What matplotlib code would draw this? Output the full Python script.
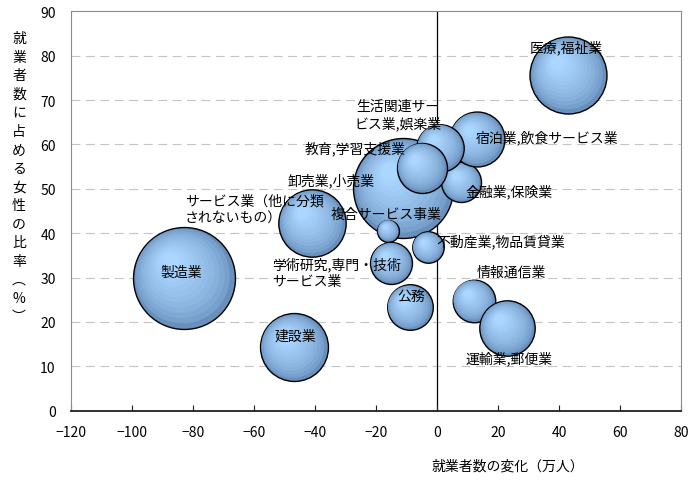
import numpy as np
import matplotlib
matplotlib.use("Agg")
import matplotlib.pyplot as plt
from matplotlib.transforms import offset_copy

plt.rcParams['font.family'] = ['Noto Sans CJK JP', 'DejaVu Sans']

# data (draw order = list order)
industries = ['製造業', '建設業', 'サービス業（他に分類されないもの）', '卸売業,小売業',
              '複合サービス事業', '学術研究,専門・技術サービス業', '公務', '不動産業,物品賃貸業',
              '金融業,保険業', '宿泊業,飲食サービス業', '生活関連サービス業,娯楽業',
              '教育,学習支援業', '医療,福祉業', '情報通信業', '運輸業,郵便業']
change = [-83, -47, -41, -11, -16, -15, -9, -3, 8, 13, 1, -5, 43, 12, 23]
female_share = [30.0, 14.3, 42.3, 50.2, 40.6, 33.3, 23.3, 36.8, 51.5, 61.2, 59.3, 54.8, 75.7, 24.8, 18.6]
employed = [1040, 462, 454, 1000, 48, 176, 208, 99, 160, 302, 225, 250, 593, 181, 307]

# label text and its anchor (data coords)
label_text = ['製造業', '建設業', 'サービス業（他に分類\nされないもの）', '卸売業,小売業',
              '複合サービス事業', '学術研究,専門・技術\nサービス業', '公務', '不動産業,物品賃貸業',
              '金融業,保険業', '宿泊業,飲食サービス業', '生活関連サー\nビス業,娯楽業',
              '教育,学習支援業', '医療,福祉業', '情報通信業', '運輸業,郵便業']
label_x = [-83.9, -46.6, -82.6, -34.7, -16.8, -53.9, -8.5, 20.8, 23.7, 36.2, -12.9, -26.9, 42.3, 24.5, 23.7]
label_y = [31.2, 16.9, 45.4, 52.0, 44.3, 31.3, 25.9, 38.2, 49.6, 61.8, 66.7, 59.1, 81.9, 31.2, 12.0]
label_ha = ['center', 'center', 'left', 'center', 'center', 'left', 'center', 'center',
            'center', 'center', 'center', 'center', 'center', 'center', 'center']

ylabel = '就業者数に占める女性の比率︵%︶'

fig = plt.figure(figsize=(6.88, 4.81), dpi=100)
ax = fig.add_axes([71/688, 1 - 411.7/481, 610/688, 399.4/481])
ax.set_xlim(-120, 80)
ax.set_ylim(0, 90)
ax.set_xticks(range(-120, 81, 20))
ax.set_yticks(range(0, 91, 10))

for y in range(10, 90, 10):
    ax.axhline(y, color='#c4c4c4', lw=0.8, ls=(0, (8, 5)), zorder=1)
ax.axvline(0, color='black', lw=0.9, zorder=1.5)

outer = np.array([0.41, 0.56, 0.74])
inner = np.array([0.67, 0.84, 1.0])
n_layers = 12
scale = 5.18  # points^2 per person unit

for i in range(len(industries)):
    s = employed[i] * scale
    r_pt = np.sqrt(s) / 2
    base_z = 3 + i
    for k in range(n_layers):
        t = k / (n_layers - 1)
        f = 1 - 0.82 * t
        col = outer + (inner - outer) * (t ** 0.6)
        tr = offset_copy(ax.transData, fig=fig, x=-0.27 * r_pt * t, y=0.31 * r_pt * t, units='points')
        ax.scatter([change[i]], [female_share[i]], s=s * f * f, color=col,
                   edgecolors='black' if k == 0 else 'none',
                   linewidths=1.0 if k == 0 else 0, transform=tr,
                   zorder=base_z + k * 0.01)

for i in range(len(label_text)):
    ax.text(label_x[i], label_y[i], label_text[i], ha=label_ha[i], va='center',
            fontsize=10, zorder=50, linespacing=1.25)

for side in ['top', 'right', 'left']:
    ax.spines[side].set_color('#8c8c8c')
ax.spines['bottom'].set_color('#202020')
ax.spines['bottom'].set_linewidth(1.3)
ax.tick_params(axis='x', direction='in', length=4, width=0.8, color='#202020',
               pad=10, labelsize=10)
ax.tick_params(axis='y', length=0, pad=11, labelsize=10)
ax.set_xticklabels([str(v).replace('-', '−') for v in range(-120, 81, 20)])

fig.text(508/688, 1 - 467/481, '就業者数の変化（万人）', ha='center', va='center', fontsize=10)

for j, ch in enumerate(ylabel):
    fig.text(19/688, 1 - (39.3 + 18.53 * j)/481, ch, ha='center', va='center', fontsize=10)

fig.savefig('out.png', dpi=100)
